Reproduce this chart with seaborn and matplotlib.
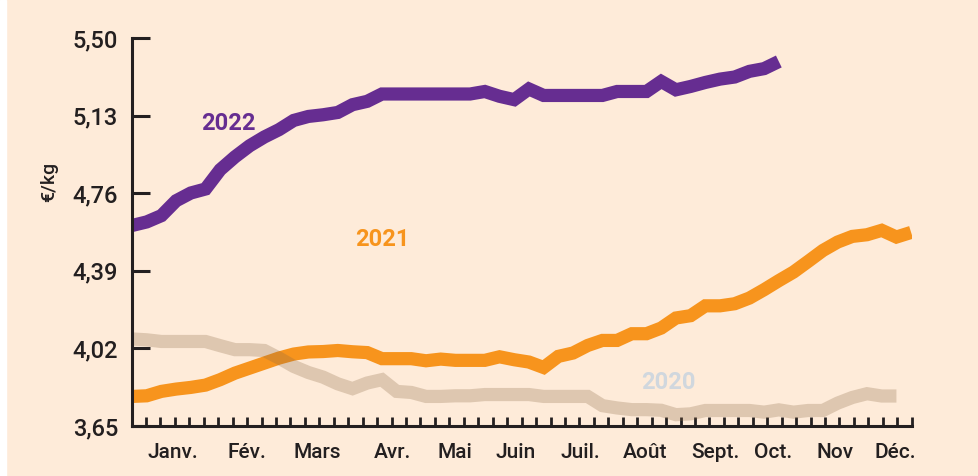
import numpy as np
import pandas as pd
import matplotlib
matplotlib.use("Agg")
import matplotlib.pyplot as plt
from matplotlib.patches import Rectangle
import seaborn as sns

# weekly prices (EUR/kg)
prix_2022 = [4.606, 4.623, 4.653, 4.724, 4.761, 4.780, 4.872, 4.933, 4.986, 5.028,
             5.063, 5.107, 5.126, 5.134, 5.145, 5.182, 5.198, 5.233, 5.233, 5.233,
             5.233, 5.233, 5.233, 5.233, 5.245, 5.222, 5.206, 5.257, 5.226, 5.226,
             5.226, 5.226, 5.226, 5.245, 5.245, 5.245, 5.293, 5.253, 5.269, 5.288,
             5.304, 5.314, 5.341, 5.354, 5.388]
prix_2021 = [3.791, 3.794, 3.815, 3.826, 3.834, 3.845, 3.871, 3.902, 3.926, 3.950,
             3.974, 3.993, 4.003, 4.005, 4.010, 4.004, 4.000, 3.971, 3.971, 3.971,
             3.961, 3.969, 3.963, 3.963, 3.963, 3.980, 3.966, 3.955, 3.929, 3.982,
             3.998, 4.034, 4.058, 4.058, 4.090, 4.090, 4.117, 4.165, 4.176, 4.223,
             4.223, 4.233, 4.260, 4.300, 4.343, 4.384, 4.435, 4.487, 4.527, 4.554,
             4.562, 4.583, 4.551, 4.573]
prix_2020 = [4.065, 4.061, 4.053, 4.053, 4.053, 4.053, 4.033, 4.014, 4.014, 4.010,
             3.974, 3.934, 3.905, 3.883, 3.851, 3.828, 3.855, 3.871, 3.815, 3.810,
             3.791, 3.791, 3.794, 3.794, 3.800, 3.800, 3.800, 3.800, 3.791, 3.791,
             3.791, 3.791, 3.747, 3.736, 3.728, 3.728, 3.725, 3.704, 3.708, 3.724,
             3.724, 3.724, 3.724, 3.716, 3.727, 3.716, 3.724, 3.724, 3.759, 3.786,
             3.804, 3.793, 3.793]

mois = ["Janv.", "Fév.", "Mars", "Avr.", "Mai", "Juin", "Juil.", "Août",
        "Sept.", "Oct.", "Nov", "Déc."]
mois_pos = [2.8, 7.8, 12.6, 17.7, 21.97, 26.1, 30.5, 34.9, 39.7, 43.6, 47.8, 51.9]
y_ticks = [3.65, 4.02, 4.39, 4.76, 5.13, 5.50]
y_labels = ["3,65", "4,02", "4,39", "4,76", "5,13", "5,50"]

BG = "#FEEBD9"
INK = "#231F20"
VIOLET = "#662D91"
ORANGE = "#F7941D"

sns.set_style("ticks")
plt.rcParams["font.family"] = ["Roboto", "DejaVu Sans"]

fig = plt.figure(figsize=(9.79, 4.76), dpi=100, facecolor=BG)
fig.patches.append(Rectangle((0, 0), 6 / 979, 1, transform=fig.transFigure,
                             color="white", zorder=0))
ax = fig.add_axes([132 / 979, 1 - 426 / 476, 780 / 979, 388 / 476])
ax.set_facecolor(BG)

df22 = pd.DataFrame({"semaine": np.arange(len(prix_2022)), "prix": prix_2022})
df21 = pd.DataFrame({"semaine": np.arange(len(prix_2021)), "prix": prix_2021})
df20 = pd.DataFrame({"semaine": np.arange(len(prix_2020)), "prix": prix_2020})

style = dict(lw=9.5, solid_capstyle="butt", solid_joinstyle="miter")
sns.lineplot(data=df22, x="semaine", y="prix", color=VIOLET, ax=ax, **style)
sns.lineplot(data=df21, x="semaine", y="prix", color=ORANGE, ax=ax, **style)
sns.lineplot(data=df20, x="semaine", y="prix", color="#8C6A46", alpha=0.28,
             ax=ax, **style)

ax.set_xlim(0, 53.06)
ax.set_ylim(3.65, 5.50)

# series labels
ax.text(6.53, 5.091, "2022", color=VIOLET, fontsize=17, fontweight="bold",
        ha="center", va="center")
ax.text(17.0, 4.538, "2021", color=ORANGE, fontsize=17, fontweight="bold",
        ha="center", va="center")
ax.text(36.46, 3.856, "2020", color="#D0D7DE", fontsize=17, fontweight="bold",
        ha="center", va="center")

# axes styling
sns.despine(ax=ax)
for s in ["left", "bottom"]:
    ax.spines[s].set_linewidth(2.2)
    ax.spines[s].set_color(INK)

ax.set_yticks(y_ticks)
ax.set_yticklabels(y_labels, fontweight="medium")
ax.tick_params(axis="y", direction="in", length=13, width=2.2, color=INK,
               labelsize=17, labelcolor=INK, pad=10)

ax.set_xticks(mois_pos)
ax.set_xticklabels(mois, fontweight="medium")
ax.set_xticks(np.linspace(0.95, 53.04, 54), minor=True)
ax.tick_params(axis="x", which="major", length=0, labelsize=15,
               labelcolor=INK, pad=12)
ax.tick_params(axis="x", which="minor", direction="in", length=6.5,
               width=2, color=INK)

ax.set_xlabel("")
ax.set_ylabel("€/kg", fontsize=14, color=INK, fontweight="medium", labelpad=0)
ax.yaxis.set_label_coords(-74 / 780, 0.63)

fig.savefig("out.png", dpi=100, facecolor=BG)
